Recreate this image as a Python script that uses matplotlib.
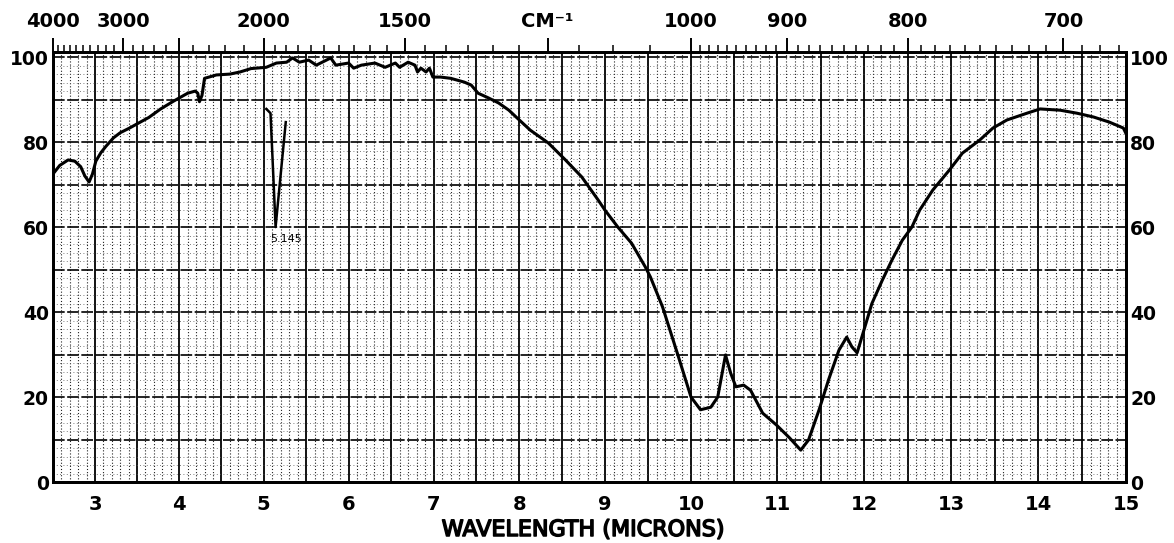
import numpy as np
import matplotlib
matplotlib.use("Agg")
import matplotlib.pyplot as plt
from matplotlib.ticker import FixedLocator, FixedFormatter, FuncFormatter, MultipleLocator
import matplotlib.patheffects as pe

plt.rcParams['font.family'] = ['DejaVu Sans']
plt.rcParams['font.weight'] = 'bold'

# ---------------- data ----------------
wavelength = [2.50, 2.58, 2.68, 2.76, 2.83, 2.88, 2.93, 2.97, 3.01, 3.07,
              3.13, 3.22, 3.30, 3.41, 3.52, 3.64, 3.78, 3.93, 4.10, 4.19,
              4.22, 4.24, 4.27, 4.30, 4.44, 4.60, 4.72, 4.85, 5.03, 5.15,
              5.27, 5.34, 5.42, 5.53, 5.62, 5.69, 5.79, 5.85, 6.00, 6.06,
              6.15, 6.31, 6.43, 6.55, 6.60, 6.70, 6.78, 6.81, 6.85, 6.91,
              6.95, 6.99, 7.08, 7.20, 7.36, 7.44, 7.52, 7.64, 7.76, 7.88,
              7.98, 8.13, 8.34, 8.54, 8.73, 8.92, 9.00, 9.15, 9.31, 9.47,
              9.53, 9.67, 9.84, 10.00, 10.11, 10.23, 10.31, 10.40, 10.46, 10.52,
              10.61, 10.69, 10.83, 10.99, 11.14, 11.27, 11.36, 11.48, 11.59, 11.71,
              11.80, 11.86, 11.92, 11.98, 12.09, 12.21, 12.32, 12.44, 12.55, 12.64,
              12.79, 12.98, 13.13, 13.33, 13.48, 13.64, 13.87, 14.02, 14.25, 14.44,
              14.63, 14.81, 14.97, 15.00]
transmittance = [72.5, 74.5, 75.8, 75.5, 74.2, 72.0, 70.6, 72.5, 75.5, 77.5,
                 79.0, 81.0, 82.2, 83.3, 84.5, 85.8, 87.8, 89.6, 91.5, 92.0,
                 91.5, 89.5, 91.0, 95.0, 95.8, 96.0, 96.5, 97.3, 97.6, 98.6,
                 98.8, 99.8, 98.8, 99.3, 98.1, 98.8, 99.8, 98.1, 98.6, 97.4,
                 98.1, 98.6, 97.6, 98.6, 97.6, 98.8, 98.1, 96.5, 97.4, 96.5,
                 97.4, 95.3, 95.3, 95.0, 94.1, 93.4, 91.5, 90.4, 89.2, 87.5,
                 85.6, 82.8, 79.8, 75.8, 71.8, 66.4, 64.0, 60.0, 56.2, 50.6,
                 48.2, 41.2, 30.4, 20.0, 17.0, 17.6, 20.0, 29.9, 25.6, 22.4,
                 22.8, 21.6, 16.2, 13.4, 10.4, 7.5, 9.9, 16.9, 24.0, 31.0,
                 34.1, 31.8, 30.4, 34.5, 42.0, 47.5, 52.2, 56.9, 60.0, 64.0,
                 68.7, 73.4, 77.4, 80.5, 83.3, 85.2, 86.8, 87.8, 87.5, 86.8,
                 85.9, 84.7, 83.3, 82.0]

# separate hand-run band marked on the chart
spike_wavelength = [5.03, 5.08, 5.14, 5.26]
spike_transmittance = [87.8, 86.8, 60.0, 84.7]
spike_note = "5.145"
spike_note_pos = (5.26, 57.3)

micron_ticks = [3, 4, 5, 6, 7, 8, 9, 10, 11, 12, 13, 14, 15]
percent_ticks = [0, 20, 40, 60, 80, 100]
wn_major = [4000, 3000, 2500, 2000, 1500, 1200, 1000, 900, 800, 700]
wn_labels = ['4000', '3000', '', '2000', '1500', 'CM⁻¹', '1000', '900', '800', '700']
wn_minor = list(range(4000, 2000, -100)) + list(range(2000, 1000, -50)) + list(range(1000, 665, -10))

# ---------------- scale (scan of the chart paper is slightly non-linear) ----------------
K = 0.001861


def fwd(u):
    u = np.asarray(u, dtype=float)
    return u + K * u * u


def inv(p):
    p = np.asarray(p, dtype=float)
    return (np.sqrt(np.maximum(1 + 4 * K * p, 0)) - 1) / (2 * K)


fig = plt.figure(figsize=(11.74, 5.43), dpi=100)
ax = fig.add_axes([53 / 1174, 61 / 543, 1073 / 1174, 430 / 543])
ax.set_xscale('function', functions=(fwd, inv))
ax.set_xlim(2.5, 15)
ax.set_ylim(0, 101.2)

ax.xaxis.set_major_locator(FixedLocator(np.arange(2.5, 15.01, 0.5)))
ax.xaxis.set_minor_locator(FixedLocator(np.arange(2.5, 15.001, 0.1)))
ax.xaxis.set_major_formatter(FuncFormatter(
    lambda v, pos: f"{int(round(v))}" if (abs(v - round(v)) < 1e-6 and int(round(v)) in micron_ticks) else ""))
ax.yaxis.set_major_locator(MultipleLocator(10))
ax.yaxis.set_minor_locator(MultipleLocator(2))
ax.yaxis.set_major_formatter(FuncFormatter(
    lambda v, pos: f"{int(round(v))}" if int(round(v)) in percent_ticks else ""))

ax.grid(which='major', axis='x', color='k', lw=1.3)
ax.grid(which='minor', axis='x', color='#222222', lw=0.8, ls=(0, (1, 1.8)))
ax.grid(which='major', axis='y', color='k', lw=1.2, ls=(0, (7, 1.5)))
ax.grid(which='minor', axis='y', color='#555555', lw=0.6, ls=(0, (1, 3)))
ax.set_axisbelow(True)

ax.tick_params(axis='x', which='both', length=0, pad=9, labelsize=14, top=False)
ax.tick_params(axis='y', which='both', length=0, left=True, right=True,
               labelleft=True, labelright=True, labelsize=13.5, pad=3)
for s in ax.spines.values():
    s.set_linewidth(2.0)

ax.plot(wavelength, transmittance, color='k', lw=2.2, solid_joinstyle='round', zorder=3)
ax.plot(spike_wavelength, spike_transmittance, color='k', lw=1.8, zorder=3)
ax.text(spike_note_pos[0], spike_note_pos[1], spike_note, fontsize=8, fontweight='normal',
        ha='center', va='center', zorder=4)

# top wavenumber axis
ax2 = ax.twiny()
ax2.set_xscale('function', functions=(fwd, inv))
ax2.set_xlim(2.5, 15)
ax2.xaxis.set_major_locator(FixedLocator([1e4 / v for v in wn_major]))
ax2.xaxis.set_major_formatter(FixedFormatter(wn_labels))
ax2.xaxis.set_minor_locator(FixedLocator([1e4 / v for v in wn_minor]))
ax2.tick_params(axis='x', which='major', direction='out', length=10, width=1.4, pad=5, labelsize=14)
ax2.tick_params(axis='x', which='minor', direction='out', length=5, width=1.1)
ax2.grid(False)
for s in ax2.spines.values():
    s.set_linewidth(2.0)

fig.text(583 / 1174, 1 - 530 / 543, 'WAVELENGTH (MICRONS)', ha='center', va='center',
         fontsize=16, fontweight='normal',
         path_effects=[pe.withStroke(linewidth=1.1, foreground='k')])

fig.savefig('out.png', dpi=100)
